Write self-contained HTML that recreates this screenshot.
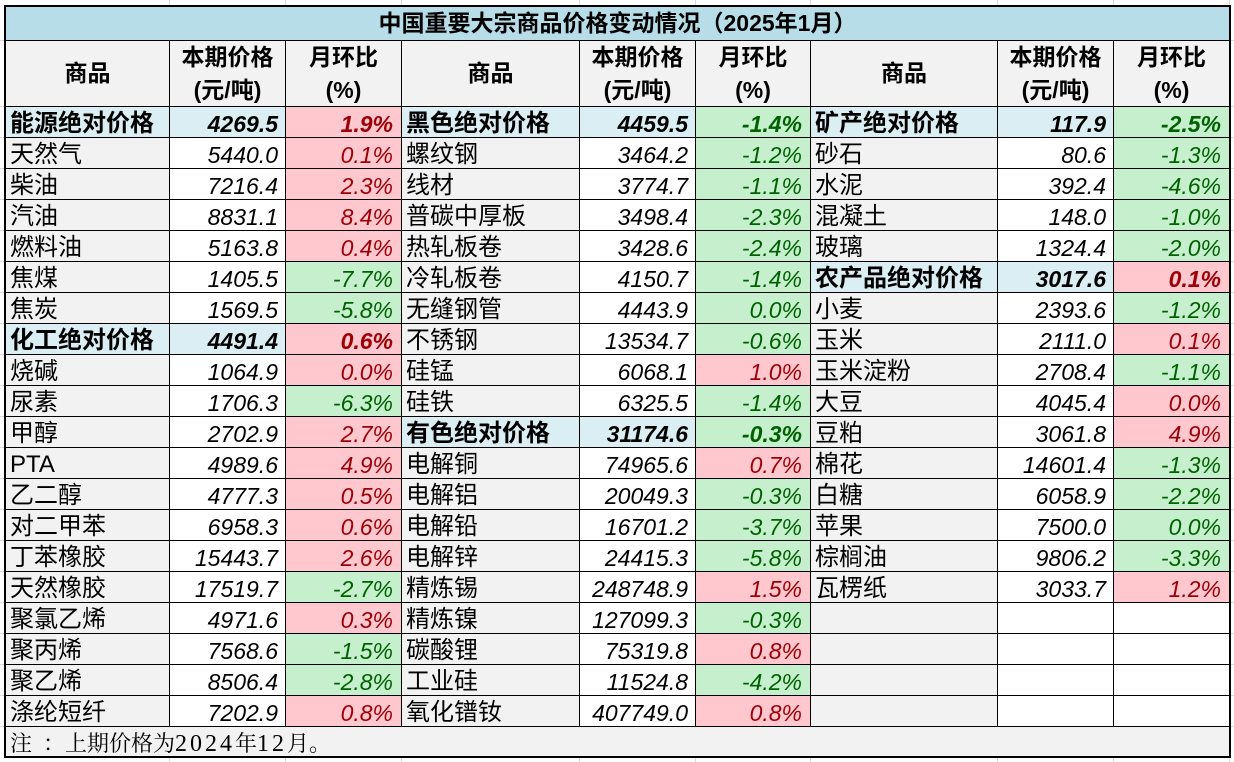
<!DOCTYPE html>
<html><head><meta charset="utf-8">
<style>
html,body{margin:0;padding:0}
body{width:1234px;height:762px;position:relative;background:#fff;overflow:hidden}
#bg{position:absolute;left:0;top:0}
#g{position:absolute;left:4px;top:5px;border:2px solid #000;background:#000;display:grid;
grid-template-columns:163px 115px 115px 177px 115px 114px 186px 115px 115px;
grid-template-rows:33px 65px repeat(20,30px) 29px;gap:1px}
#g>div{overflow:hidden;white-space:nowrap;box-sizing:border-box;color:#000}
.t{grid-column:1/10;background:#b7dee8;font:bold 23px/33px "Liberation Sans","Noto Sans CJK SC",sans-serif;text-align:center}
.h{background:#f2f2f2;font:bold 23px/33px "Liberation Sans","Noto Sans CJK SC",sans-serif;text-align:center;display:flex;flex-direction:column;justify-content:center}
.n{background:#f2f2f2;font:24px/33px "Liberation Sans","Noto Sans CJK SC",sans-serif;padding-left:4px}
.p{background:#fff;font:italic 23px/34px "Liberation Sans",sans-serif;text-align:right;padding-right:7px}
.r{background:#ffc7ce;color:#9c0006 !important;font:italic 23px/34px "Liberation Sans",sans-serif;text-align:right;padding-right:8px}
.g{background:#c6efce;color:#006100 !important;font:italic 23px/34px "Liberation Sans",sans-serif;text-align:right;padding-right:8px}
.c{background:#daeef3;font-weight:bold}
.b{font-weight:bold}
.e{background:#fff}
.note{grid-column:1/10;background:#f2f2f2;font:22px/33px "Liberation Serif","Noto Serif CJK SC",serif;padding-left:4px}
.note span{font-size:24px;letter-spacing:3px}
</style></head><body>
<svg id="bg" width="1234" height="762" xmlns="http://www.w3.org/2000/svg">
<g stroke="#d9d9d9" stroke-width="1">
<line x1="169.5" y1="0" x2="169.5" y2="762"/><line x1="285.5" y1="0" x2="285.5" y2="762"/>
<line x1="401.5" y1="0" x2="401.5" y2="762"/><line x1="579.5" y1="0" x2="579.5" y2="762"/>
<line x1="695.5" y1="0" x2="695.5" y2="762"/><line x1="810.5" y1="0" x2="810.5" y2="762"/>
<line x1="997.5" y1="0" x2="997.5" y2="762"/><line x1="1113.5" y1="0" x2="1113.5" y2="762"/>
<line x1="1229.5" y1="0" x2="1229.5" y2="762"/>
<line x1="0" y1="40.5" x2="1234" y2="40.5"/><line x1="0" y1="106.5" x2="1234" y2="106.5"/>
<line x1="0" y1="137.5" x2="1234" y2="137.5"/><line x1="0" y1="168.5" x2="1234" y2="168.5"/>
<line x1="0" y1="199.5" x2="1234" y2="199.5"/><line x1="0" y1="230.5" x2="1234" y2="230.5"/>
<line x1="0" y1="261.5" x2="1234" y2="261.5"/><line x1="0" y1="292.5" x2="1234" y2="292.5"/>
<line x1="0" y1="323.5" x2="1234" y2="323.5"/><line x1="0" y1="354.5" x2="1234" y2="354.5"/>
<line x1="0" y1="385.5" x2="1234" y2="385.5"/><line x1="0" y1="416.5" x2="1234" y2="416.5"/>
<line x1="0" y1="447.5" x2="1234" y2="447.5"/><line x1="0" y1="478.5" x2="1234" y2="478.5"/>
<line x1="0" y1="509.5" x2="1234" y2="509.5"/><line x1="0" y1="540.5" x2="1234" y2="540.5"/>
<line x1="0" y1="571.5" x2="1234" y2="571.5"/><line x1="0" y1="602.5" x2="1234" y2="602.5"/>
<line x1="0" y1="633.5" x2="1234" y2="633.5"/><line x1="0" y1="664.5" x2="1234" y2="664.5"/>
<line x1="0" y1="695.5" x2="1234" y2="695.5"/><line x1="0" y1="726.5" x2="1234" y2="726.5"/>
</g></svg>
<div id="g">
<div class="t">中国重要大宗商品价格变动情况（2025年1月）</div>

<div class="h"><div>商品</div></div>
<div class="h"><div>本期价格</div><div>(元/吨)</div></div>
<div class="h"><div>月环比</div><div>(%)</div></div>
<div class="h"><div>商品</div></div>
<div class="h"><div>本期价格</div><div>(元/吨)</div></div>
<div class="h"><div>月环比</div><div>(%)</div></div>
<div class="h"><div>商品</div></div>
<div class="h"><div>本期价格</div><div>(元/吨)</div></div>
<div class="h"><div>月环比</div><div>(%)</div></div>

<div class="n c">能源绝对价格</div><div class="p c">4269.5</div><div class="r b">1.9%</div>
<div class="n c">黑色绝对价格</div><div class="p c">4459.5</div><div class="g b">-1.4%</div>
<div class="n c">矿产绝对价格</div><div class="p c">117.9</div><div class="g b">-2.5%</div>

<div class="n">天然气</div><div class="p">5440.0</div><div class="r">0.1%</div>
<div class="n">螺纹钢</div><div class="p">3464.2</div><div class="g">-1.2%</div>
<div class="n">砂石</div><div class="p">80.6</div><div class="g">-1.3%</div>

<div class="n">柴油</div><div class="p">7216.4</div><div class="r">2.3%</div>
<div class="n">线材</div><div class="p">3774.7</div><div class="g">-1.1%</div>
<div class="n">水泥</div><div class="p">392.4</div><div class="g">-4.6%</div>

<div class="n">汽油</div><div class="p">8831.1</div><div class="r">8.4%</div>
<div class="n">普碳中厚板</div><div class="p">3498.4</div><div class="g">-2.3%</div>
<div class="n">混凝土</div><div class="p">148.0</div><div class="g">-1.0%</div>

<div class="n">燃料油</div><div class="p">5163.8</div><div class="r">0.4%</div>
<div class="n">热轧板卷</div><div class="p">3428.6</div><div class="g">-2.4%</div>
<div class="n">玻璃</div><div class="p">1324.4</div><div class="g">-2.0%</div>

<div class="n">焦煤</div><div class="p">1405.5</div><div class="g">-7.7%</div>
<div class="n">冷轧板卷</div><div class="p">4150.7</div><div class="g">-1.4%</div>
<div class="n c">农产品绝对价格</div><div class="p c">3017.6</div><div class="r b">0.1%</div>

<div class="n">焦炭</div><div class="p">1569.5</div><div class="g">-5.8%</div>
<div class="n">无缝钢管</div><div class="p">4443.9</div><div class="g">0.0%</div>
<div class="n">小麦</div><div class="p">2393.6</div><div class="g">-1.2%</div>

<div class="n c">化工绝对价格</div><div class="p c">4491.4</div><div class="r b">0.6%</div>
<div class="n">不锈钢</div><div class="p">13534.7</div><div class="g">-0.6%</div>
<div class="n">玉米</div><div class="p">2111.0</div><div class="r">0.1%</div>

<div class="n">烧碱</div><div class="p">1064.9</div><div class="r">0.0%</div>
<div class="n">硅锰</div><div class="p">6068.1</div><div class="r">1.0%</div>
<div class="n">玉米淀粉</div><div class="p">2708.4</div><div class="g">-1.1%</div>

<div class="n">尿素</div><div class="p">1706.3</div><div class="g">-6.3%</div>
<div class="n">硅铁</div><div class="p">6325.5</div><div class="g">-1.4%</div>
<div class="n">大豆</div><div class="p">4045.4</div><div class="r">0.0%</div>

<div class="n">甲醇</div><div class="p">2702.9</div><div class="r">2.7%</div>
<div class="n c">有色绝对价格</div><div class="p c">31174.6</div><div class="g b">-0.3%</div>
<div class="n">豆粕</div><div class="p">3061.8</div><div class="r">4.9%</div>

<div class="n">PTA</div><div class="p">4989.6</div><div class="r">4.9%</div>
<div class="n">电解铜</div><div class="p">74965.6</div><div class="r">0.7%</div>
<div class="n">棉花</div><div class="p">14601.4</div><div class="g">-1.3%</div>

<div class="n">乙二醇</div><div class="p">4777.3</div><div class="r">0.5%</div>
<div class="n">电解铝</div><div class="p">20049.3</div><div class="g">-0.3%</div>
<div class="n">白糖</div><div class="p">6058.9</div><div class="g">-2.2%</div>

<div class="n">对二甲苯</div><div class="p">6958.3</div><div class="r">0.6%</div>
<div class="n">电解铅</div><div class="p">16701.2</div><div class="g">-3.7%</div>
<div class="n">苹果</div><div class="p">7500.0</div><div class="g">0.0%</div>

<div class="n">丁苯橡胶</div><div class="p">15443.7</div><div class="r">2.6%</div>
<div class="n">电解锌</div><div class="p">24415.3</div><div class="g">-5.8%</div>
<div class="n">棕榈油</div><div class="p">9806.2</div><div class="g">-3.3%</div>

<div class="n">天然橡胶</div><div class="p">17519.7</div><div class="g">-2.7%</div>
<div class="n">精炼锡</div><div class="p">248748.9</div><div class="r">1.5%</div>
<div class="n">瓦楞纸</div><div class="p">3033.7</div><div class="r">1.2%</div>

<div class="n">聚氯乙烯</div><div class="p">4971.6</div><div class="r">0.3%</div>
<div class="n">精炼镍</div><div class="p">127099.3</div><div class="g">-0.3%</div>
<div class="n"></div><div class="e"></div><div class="e"></div>

<div class="n">聚丙烯</div><div class="p">7568.6</div><div class="g">-1.5%</div>
<div class="n">碳酸锂</div><div class="p">75319.8</div><div class="r">0.8%</div>
<div class="n"></div><div class="e"></div><div class="e"></div>

<div class="n">聚乙烯</div><div class="p">8506.4</div><div class="g">-2.8%</div>
<div class="n">工业硅</div><div class="p">11524.8</div><div class="g">-4.2%</div>
<div class="n"></div><div class="e"></div><div class="e"></div>

<div class="n">涤纶短纤</div><div class="p">7202.9</div><div class="r">0.8%</div>
<div class="n">氧化镨钕</div><div class="p">407749.0</div><div class="r">0.8%</div>
<div class="n"></div><div class="e"></div><div class="e"></div>

<div class="note">注&nbsp;&nbsp;：上期价格为<span>2024</span>年<span>12</span>月。</div>
</div>
</body></html>
